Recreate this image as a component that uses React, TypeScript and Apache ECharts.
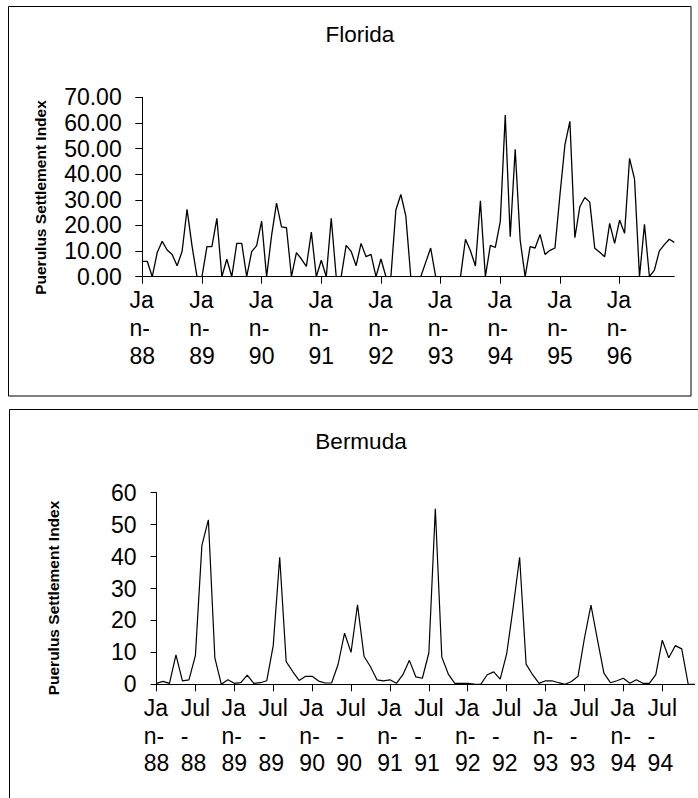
import React, { useEffect, useRef } from "react";
import * as echarts from "echarts";

const monthNames = ["Jan", "Feb", "Mar", "Apr", "May", "Jun", "Jul", "Aug", "Sep", "Oct", "Nov", "Dec"];

const floridaYears = ["88", "89", "90", "91", "92", "93", "94", "95", "96"];
const floridaCategories = floridaYears.flatMap((y) => monthNames.map((m) => `${m}-${y}`));
const floridaValues = [
  6, 6, 0, 9.4, 13.8, 10.4, 8.7, 4.3, 9.8, 26.3, 12, 0,
  0, 11.7, 11.7, 22.8, 0, 6.8, 0, 13, 13, 0, 9.8, 12.1,
  21.7, 0, 16, 28.7, 19.4, 19.1, 0, 9.4, 6.9, 4, 17.4, 0,
  6.4, 0, 22.8, 0, 0, 12.2, 9.9, 4.3, 13, 7.8, 8.7, 0,
  6.9, 0, 0, 26, 32.1, 23.7, 0, 0, 0, 5.6, 11.2, 0,
  0, 0, 0, 0, 0, 14.6, 10.1, 4.2, 29.6, 0, 12.2, 11.4,
  21.5, 63.1, 15.6, 49.7, 14.3, 0, 11.7, 11.2, 16.5, 8.7, 10.3, 11.2,
  31.9, 51.4, 60.6, 15.2, 27.3, 30.9, 29.1, 11.1, 9.5, 7.8, 20.8, 13,
  22.1, 16.9, 46.2, 38.1, 0, 20.4, 0, 2.6, 10.1, 12.5, 14.6, 13.4,
];
const floridaYTicks = [0, 10, 20, 30, 40, 50, 60, 70];

const bermudaYears = ["88", "89", "90", "91", "92", "93", "94"];
const bermudaCategories = bermudaYears.flatMap((y) => monthNames.map((m) => `${m}-${y}`));
const bermudaValues = [
  0.3, 0.9, 0.3, 9.2, 1.1, 1.4, 9.0, 43.5, 51.5, 8.3, 0, 1.4,
  0.3, 0.5, 2.9, 0.3, 0.5, 1.1, 12.1, 39.8, 7.1, 4, 1.2, 2.5,
  2.5, 1, 0.4, 0.4, 6.2, 16, 10, 24.9, 8.8, 5.5, 1.4, 1.1,
  1.4, 0.3, 3, 7.5, 2.3, 1.9, 9.8, 55, 8.5, 3.2, 0.3, 0.3,
  0.3, 0.1, 0, 3, 3.9, 1.6, 9.5, 24, 39.8, 6.3, 3, 0.3,
  1.1, 1.1, 0.5, 0, 0.9, 2.5, 14.5, 24.8, 14, 3.5, 0.5, 1.1,
  1.9, 0.3, 1.4, 0.3, 0.3, 3, 13.8, 8.3, 12.1, 11.1, 0, 0,
];
const bermudaYTicks = [0, 10, 20, 30, 40, 50, 60];

const titles = ["Florida", "Bermuda"];
const yAxisName = "Puerulus Settlement Index";

const FONT = "'Liberation Sans', Arial, Helvetica, sans-serif";

const wrapLabel = (c: string) => {
  const [m, y] = c.split("-");
  return m === "Jan" ? `{a|Ja}\n{a|n-}\n{a|${y}}` : `{a|Jul}\n{a|-}\n{a|${y}}`;
};

export default function App() {
  const ref = useRef<HTMLDivElement>(null);

  useEffect(() => {
    if (!ref.current) return;
    const chart = echarts.init(ref.current, undefined, { renderer: "svg" });
    const axisLineStyle = { color: "#000", width: 1 };
    const option: any = {
      animation: false,
      backgroundColor: "#fff",
      grid: [
        { left: 142.3, top: 97.3, width: 532, height: 179.4, containLabel: false, outerBoundsMode: "none" },
        { left: 156.5, top: 492.7, width: 538.2, height: 191.6, containLabel: false, outerBoundsMode: "none" },
      ],
      xAxis: [
        {
          type: "category",
          gridIndex: 0,
          data: floridaCategories,
          boundaryGap: false,
          axisLine: { lineStyle: axisLineStyle },
          axisTick: { show: true, interval: 11, length: 7, lineStyle: axisLineStyle },
          axisLabel: {
            interval: 11,
            margin: 9,
            formatter: wrapLabel,
            rich: { a: { fontSize: 23, lineHeight: 28, fontFamily: FONT, color: "#000", align: "left" } },
          },
          splitLine: { show: false },
        },
        {
          type: "category",
          gridIndex: 1,
          data: bermudaCategories,
          boundaryGap: false,
          axisLine: { lineStyle: axisLineStyle },
          axisTick: { show: true, interval: 5, length: 7, lineStyle: axisLineStyle },
          axisLabel: {
            interval: 5,
            margin: 10,
            formatter: wrapLabel,
            rich: { a: { fontSize: 23, lineHeight: 27.5, fontFamily: FONT, color: "#000", align: "left" } },
          },
          splitLine: { show: false },
        },
      ],
      yAxis: [
        {
          type: "value",
          gridIndex: 0,
          min: floridaYTicks[0],
          max: floridaYTicks[floridaYTicks.length - 1],
          interval: floridaYTicks[1] - floridaYTicks[0],
          axisLine: { show: true, lineStyle: axisLineStyle },
          axisTick: { show: true, length: 7, lineStyle: axisLineStyle },
          axisLabel: {
            margin: 20.6,
            fontSize: 23,
            color: "#000",
            fontFamily: FONT,
            formatter: (v: number) => v.toFixed(2),
          },
          splitLine: { show: false },
        },
        {
          type: "value",
          gridIndex: 1,
          min: bermudaYTicks[0],
          max: bermudaYTicks[bermudaYTicks.length - 1],
          interval: bermudaYTicks[1] - bermudaYTicks[0],
          axisLine: { show: true, lineStyle: axisLineStyle },
          axisTick: { show: true, length: 6, lineStyle: axisLineStyle },
          axisLabel: { margin: 20, fontSize: 23, color: "#000", fontFamily: FONT },
          splitLine: { show: false },
        },
      ],
      series: [
        {
          type: "line",
          xAxisIndex: 0,
          yAxisIndex: 0,
          data: floridaValues,
          symbol: "none",
          lineStyle: { color: "#000", width: 1.3 },
          z: 3,
        },
        {
          type: "line",
          xAxisIndex: 1,
          yAxisIndex: 1,
          data: bermudaValues,
          symbol: "none",
          lineStyle: { color: "#000", width: 1.2 },
          z: 3,
        },
      ],
      graphic: [
        {
          type: "rect",
          shape: { x: 8.5, y: 6.5, width: 682.5, height: 389.5 },
          style: { fill: "none", stroke: "#000", lineWidth: 1 },
          silent: true,
          z: -1,
        },
        {
          type: "rect",
          shape: { x: 9.5, y: 409.5, width: 720, height: 420 },
          style: { fill: "none", stroke: "#000", lineWidth: 1 },
          silent: true,
          z: -1,
        },
        {
          type: "text",
          x: 360,
          y: 34.3,
          style: { text: titles[0], align: "center", verticalAlign: "middle", fontSize: 22.5, fontFamily: FONT, fill: "#000" },
        },
        {
          type: "text",
          x: 361,
          y: 441.2,
          style: { text: titles[1], align: "center", verticalAlign: "middle", fontSize: 22.5, fontFamily: FONT, fill: "#000" },
        },
        {
          type: "text",
          x: 40.8,
          y: 197.5,
          rotation: Math.PI / 2,
          style: { text: yAxisName, align: "center", verticalAlign: "middle", fontSize: 15.5, fontWeight: "bold", fontFamily: FONT, fill: "#000" },
        },
        {
          type: "text",
          x: 53.3,
          y: 598,
          rotation: Math.PI / 2,
          style: { text: yAxisName, align: "center", verticalAlign: "middle", fontSize: 15.5, fontWeight: "bold", fontFamily: FONT, fill: "#000" },
        },
      ],
    };
    chart.setOption(option);
    return () => chart.dispose();
  }, []);

  return (
    <div
      ref={ref}
      style={{ position: "absolute", left: 0, top: 0, width: 698, height: 798, background: "#fff" }}
    />
  );
}
